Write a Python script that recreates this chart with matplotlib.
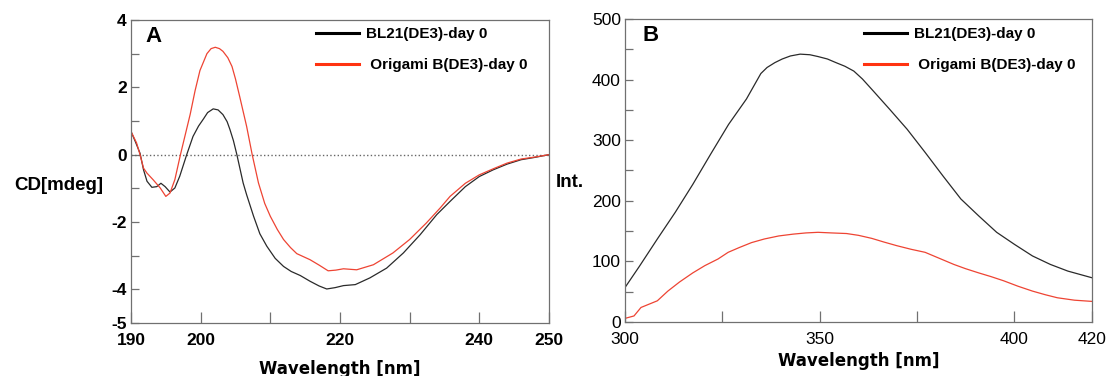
import matplotlib.pyplot as plt
from matplotlib.lines import Line2D

# panel A - CD spectra
cd_wl_bl21 = [190.0, 190.6, 191.3, 191.8, 192.3, 193.0, 193.7, 194.3, 194.9, 195.6,
              196.3, 197.0, 198.0, 198.9, 199.7, 200.4, 201.0, 201.8, 202.5, 203.2,
              203.8, 204.2, 204.7, 205.2, 206.1, 206.6, 207.6, 208.5, 209.5, 210.7,
              211.9, 213.0, 214.3, 215.7, 217.0, 218.1, 219.3, 220.5, 222.2, 224.3,
              226.7, 229.1, 231.5, 233.9, 235.8, 238.0, 240.0, 242.0, 244.0, 246.0,
              248.0, 250.0]
cd_bl21 = [0.69, 0.40, 0.04, -0.45, -0.79, -0.97, -0.95, -0.85, -0.95, -1.11,
           -0.99, -0.64, 0.00, 0.54, 0.85, 1.06, 1.25, 1.36, 1.33, 1.19,
           0.98, 0.75, 0.42, 0.00, -0.84, -1.19, -1.83, -2.35, -2.72, -3.08,
           -3.32, -3.47, -3.59, -3.76, -3.90, -3.99, -3.95, -3.89, -3.86, -3.66,
           -3.37, -2.92, -2.38, -1.78, -1.39, -0.95, -0.65, -0.45, -0.28, -0.15,
           -0.08, 0.00]

cd_wl_ori = [190.0, 190.8, 191.3, 191.8, 192.3, 193.2, 194.2, 195.0, 195.6, 196.3,
             197.1, 197.8, 198.5, 199.2, 199.9, 200.9, 201.5, 202.1, 202.7, 203.2,
             203.9, 204.5, 205.0, 205.6, 206.6, 207.4, 208.3, 209.2, 210.0, 211.0,
             211.9, 212.9, 213.8, 215.7, 217.0, 218.3, 219.4, 220.5, 222.4, 224.8,
             227.6, 230.0, 232.4, 234.4, 235.8, 238.0, 240.0, 242.0, 244.0, 246.0,
             248.0, 250.0]
cd_ori = [0.69, 0.35, 0.00, -0.40, -0.55, -0.75, -0.99, -1.24, -1.14, -0.74,
          0.00, 0.60, 1.20, 1.90, 2.50, 3.00, 3.15, 3.19, 3.15, 3.07,
          2.88, 2.62, 2.25, 1.73, 0.84, 0.00, -0.84, -1.45, -1.83, -2.22,
          -2.52, -2.76, -2.94, -3.12, -3.28, -3.45, -3.43, -3.39, -3.42, -3.27,
          -2.92, -2.52, -2.03, -1.58, -1.24, -0.85, -0.60, -0.42, -0.25, -0.13,
          -0.07, 0.00]

# panel B - fluorescence
fl_wl = [300.0, 303.7, 308.3, 312.9, 317.4, 322.0, 326.6, 331.2, 334.9, 336.5,
         338.5, 340.4, 342.5, 345.0, 347.5, 349.6, 352.0, 354.2, 356.5, 358.8,
         361.0, 363.4, 368.0, 372.5, 377.1, 381.7, 386.3, 390.9, 395.5, 400.1,
         404.7, 409.3, 413.8, 420.0]
fl_bl21 = [57, 92, 137, 181, 227, 277, 326, 368, 410, 420,
           428, 434, 439, 442, 441, 438, 434, 428, 422, 414,
           401, 384, 351, 318, 280, 241, 203, 175, 148, 128,
           109, 95, 84, 73]

fl_wl_ori = [300.0, 302.3, 304.1, 308.3, 311.0, 314.0, 317.4, 320.5, 323.9, 326.5,
             329.4, 332.5, 335.8, 339.5, 343.2, 346.5, 349.6, 353.0, 356.9, 360.0,
             363.4, 366.5, 369.8, 373.5, 377.1, 380.8, 384.5, 387.5, 390.9, 394.0,
             397.3, 401.0, 404.7, 408.0, 411.1, 415.5, 420.0]
fl_ori = [6, 10, 24, 35, 51, 66, 81, 93, 104, 115,
          123, 131, 137, 142, 145, 147, 148, 147, 146, 143,
          138, 132, 126, 120, 115, 105, 95, 88, 81, 75,
          68, 59, 51, 45, 40, 36, 34]

labels = ["BL21(DE3)-day 0", " Origami B(DE3)-day 0"]

BLACK = "#2a2a2a"
RED = "#ee4433"
SPINE = "#707070"
FONT = "Liberation Sans"


def style_axes(ax, bold_ticks):
    for s in ax.spines.values():
        s.set_color(SPINE)
        s.set_linewidth(0.9)
    ax.tick_params(axis="both", direction="in", colors=SPINE, width=0.9,
                   labelcolor="black", labelsize=12.5)
    ax.tick_params(axis="x", length=8, pad=7)
    ax.tick_params(axis="y", length=5.5, pad=3)
    for lab in ax.get_xticklabels() + ax.get_yticklabels():
        lab.set_family(FONT)
        lab.set_weight("bold" if bold_ticks else "normal")


def add_legend(ax, x0, y0):
    handles = [Line2D([], [], color="black", lw=2.2),
               Line2D([], [], color="#ff3311", lw=2.2)]
    ax.legend(handles, labels, loc="upper left", bbox_to_anchor=(x0, y0),
              frameon=False, borderpad=0, borderaxespad=0, handlelength=2.8,
              handletextpad=0.5, labelspacing=1.1,
              prop={"family": FONT, "weight": "bold", "size": 11})


fig = plt.figure(figsize=(11.11, 3.76), dpi=100)
ax1 = fig.add_axes([0.1179, 0.141, 0.3762, 0.8058])
ax2 = fig.add_axes([0.5626, 0.1436, 0.4203, 0.8059])

# A
ax1.axhline(0, color="#666666", ls=":", lw=1)
ax1.plot(cd_wl_bl21, cd_bl21, color=BLACK, lw=0.9)
ax1.plot(cd_wl_ori, cd_ori, color=RED, lw=0.9)
ax1.set_xlim(190, 250)
ax1.set_ylim(-5, 4)
ax1.set_xticks(range(190, 251, 10))
ax1.set_xticklabels(["190", "200", "", "220", "", "240", "250"])
ax1.set_yticks(range(-5, 5))
ax1.set_yticklabels(["-5", "-4", "", "-2", "", "0", "", "2", "", "4"])
style_axes(ax1, True)
ax1.set_xlabel("Wavelength [nm]", family="DejaVu Sans", weight="bold",
               fontsize=12, labelpad=9)
ax1.set_ylabel("CD[mdeg]", family=FONT, weight="bold", fontsize=13.5,
               rotation=0, ha="center", va="center")
ax1.yaxis.set_label_coords(-0.173, 0.455)
ax1.text(0.055, 0.947, "A", transform=ax1.transAxes, ha="center", va="center",
         family=FONT, weight="bold", fontsize=16)
add_legend(ax1, 0.4426, 0.976)

# B
ax2.plot(fl_wl, fl_bl21, color=BLACK, lw=0.9)
ax2.plot(fl_wl_ori, fl_ori, color=RED, lw=0.9)
ax2.set_xlim(300, 420)
ax2.set_ylim(0, 500)
ax2.set_xticks([300, 325, 350, 375, 400, 420])
ax2.set_xticklabels(["300", "", "350", "", "400", "420"])
ax2.set_yticks(range(0, 501, 50))
ax2.set_yticklabels([str(v) if v % 100 == 0 else "" for v in range(0, 501, 50)])
style_axes(ax2, False)
ax2.set_xlabel("Wavelength [nm]", family="DejaVu Sans", weight="bold",
               fontsize=12, labelpad=4)
ax2.set_ylabel("Int.", family=FONT, weight="bold", fontsize=13.5,
               rotation=0, ha="center", va="center")
ax2.yaxis.set_label_coords(-0.119, 0.459)
ax2.text(0.055, 0.947, "B", transform=ax2.transAxes, ha="center", va="center",
         family=FONT, weight="bold", fontsize=16)
add_legend(ax2, 0.5118, 0.972)

fig.savefig("out.png", dpi=100)
